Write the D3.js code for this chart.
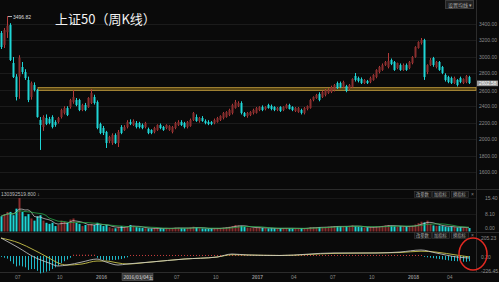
<!DOCTYPE html>
<html><head><meta charset="utf-8">
<script src="https://cdn.jsdelivr.net/npm/d3@7"></script>
<style>
html,body{margin:0;padding:0;background:#0a0a0a;}
svg{display:block;}
</style></head><body>
<svg id="c" width="499" height="282"></svg>
<script>
const title = "上证50（周K线）";
const opens = [
3291,3145,3300,3388,2926,2760,2760,2877,2816,2719,
2512,2658,2597,2233,2147,2257,2245,2269,2208,2208,
2269,2318,2378,2391,2451,2476,2476,2354,2415,2391,
2439,2512,2451,2184,2135,2087,1977,1953,2050,1953,
2147,2111,2147,2208,2172,2196,2196,2172,2147,2123,
2111,2087,2111,2172,2147,2135,2111,2087,2135,2172,
2208,2196,2147,2160,2233,2269,2220,2257,2220,2208,
2208,2196,2208,2233,2257,2269,2293,2318,2378,2403,
2439,2318,2281,2293,2318,2318,2354,2391,2366,2415,
2403,2391,2354,2391,2354,2378,2415,2391,2342,2330,
2354,2318,2366,2378,2476,2500,2549,2512,2537,2561,
2573,2597,2682,2682,2634,2646,2609,2634,2768,2743,
2731,2682,2707,2695,2719,2755,2816,2841,2901,2877,
2962,2938,2865,2901,2841,2901,2865,2926,2999,3108,
3169,3205,2816,2901,2986,2877,2938,2877,2780,2755,
2743,2682,2719,2743,2682,2695,2755];
const closes = [
3120,3327,3380,2962,2755,2512,2990,2816,2743,2476,
2682,2597,2269,2172,2269,2184,2196,2147,2172,2257,
2354,2378,2293,2476,2512,2415,2354,2415,2354,2500,
2561,2439,2135,2074,2074,1953,2026,2050,1953,2087,
2074,2147,2208,2184,2220,2147,2147,2135,2196,2074,
2074,2135,2172,2135,2111,2172,2160,2147,2196,2208,
2172,2147,2208,2233,2318,2220,2257,2220,2196,2184,
2184,2233,2257,2281,2318,2330,2354,2415,2451,2439,
2318,2281,2318,2330,2354,2378,2391,2354,2391,2378,
2366,2354,2378,2342,2391,2415,2366,2354,2378,2378,
2318,2378,2403,2476,2512,2537,2476,2573,2597,2597,
2634,2658,2622,2634,2695,2585,2658,2731,2719,2707,
2682,2719,2682,2743,2780,2841,2877,2901,2938,2950,
2914,2841,2926,2841,2901,2841,2938,2999,3120,3181,
3205,2755,2901,2962,2901,2938,2841,2804,2719,2695,
2682,2743,2658,2695,2731,2768,2682];
const highs = [
3315,3351,3496.82,3410,2999,2790,3020,2938,2850,2760,
2700,2690,2610,2269,2290,2300,2270,2290,2230,2270,
2370,2400,2400,2490,2597,2500,2490,2430,2440,2510,
2609,2540,2470,2200,2160,2100,2040,2070,2070,2111,
2170,2170,2230,2240,2240,2220,2210,2190,2210,2140,
2120,2150,2180,2190,2160,2180,2170,2160,2210,2230,
2230,2210,2220,2250,2330,2300,2270,2280,2240,2230,
2220,2250,2270,2290,2330,2340,2370,2430,2476,2460,
2460,2330,2330,2340,2370,2390,2400,2410,2400,2430,
2420,2400,2390,2400,2400,2430,2430,2400,2390,2390,
2370,2390,2410,2490,2520,2550,2570,2590,2610,2620,
2650,2670,2700,2700,2710,2660,2670,2740,2804,2760,
2750,2730,2720,2760,2790,2850,2890,2920,2950,3047,
2980,2950,2930,2920,2920,2920,2950,3010,3130,3190,
3230,3220,2910,2986,3000,2950,2950,2890,2800,2770,
2760,2760,2730,2760,2740,2780,2770];
const lows = [
3096,3108,3230,2950,2743,2470,2490,2790,2720,2450,
2480,2580,2260,1868,2100,2170,2180,2130,2150,2190,
2250,2300,2280,2370,2430,2400,2340,2340,2340,2380,
2427,2420,2120,2060,2050,1892,1950,1930,1940,1904,
2060,2100,2130,2170,2160,2130,2130,2120,2130,2060,
2060,2070,2100,2120,2100,2120,2100,2070,2120,2160,
2160,2130,2130,2150,2220,2210,2200,2210,2180,2170,
2170,2180,2200,2220,2240,2260,2280,2300,2370,2390,
2300,2270,2260,2280,2300,2310,2340,2340,2350,2370,
2350,2340,2340,2330,2340,2370,2360,2340,2330,2320,
2300,2300,2350,2370,2460,2490,2460,2500,2520,2550,
2560,2580,2610,2620,2620,2570,2590,2620,2700,2690,
2670,2670,2670,2680,2710,2740,2800,2830,2890,2860,
2900,2830,2850,2830,2830,2830,2850,2910,2990,3100,
3150,2720,2790,2890,2880,2860,2830,2790,2700,2680,
2670,2670,2640,2680,2670,2680,2670];
const volumes = [
7,8,9,9,7.5,10.5,15.4,9,7,8,
6,5,7,7.5,5,4,3.5,4,2.5,3,
5,4.5,4,5.5,6,4,3.5,2.5,3,3,
3.5,3,4,3,2.5,3,2,1.5,1.5,2,
2.5,2,2.5,3,2.5,2,1.8,1.6,1.5,1.4,
1.3,1.5,1.6,1.4,1.3,1.5,1.4,1.6,1.8,1.7,
1.5,1.4,1.6,1.8,2.2,1.8,1.5,1.4,1.3,1.2,
1.3,1.4,1.5,1.6,1.8,2,2.2,2.5,3,2.8,
2.6,2.2,1.8,1.6,1.7,1.8,1.9,1.6,1.5,1.4,
1.5,1.4,1.3,1.4,1.5,1.6,1.5,1.4,1.3,1.4,
1.5,1.4,1.6,2,1.9,1.8,2,1.9,2.1,2.2,
2.3,2.5,2.4,2.3,2.2,2.4,2.6,2.8,2.4,2.2,
2,1.8,1.9,2,2.1,2.3,2.4,2.6,2.8,3,
2.6,2.4,2.2,2.5,2.3,2.2,2.4,2.6,3.2,3.8,
4.5,4.2,5,3.5,2.8,2.6,2.7,2.5,2.2,2,
2.2,2,1.8,1.9,1.8,1.7,1.6];
const macdHist = [
-10,-20,-30,-60,-90,-120,-110,-120,-130,-160,
-150,-150,-170,-200,-190,-180,-170,-150,-130,-110,
-80,-60,-40,-20,15,15,15,15,15,15,
15,15,-20,-35,-45,-50,-50,-45,-45,-40,
-35,-25,-15,12,12,12,12,12,12,12,
12,12,12,12,12,12,12,12,12,12,
12,12,12,12,12,12,12,12,12,12,
12,12,12,12,12,12,12,12,12,12,
12,12,12,12,12,12,12,12,12,12,
12,12,12,12,12,12,12,12,12,12,
12,12,12,12,12,12,12,12,12,12,
12,12,12,12,12,12,12,12,12,12,
12,12,12,12,12,12,12,12,12,12,
12,12,12,12,12,12,12,12,12,12,
12,-10,-15,-20,-25,-30,-35,-40,-45,-50,
-55,-58,-60,-62,-65,-66,-60];
const macdIdx = [0,6,11,16,19,22,27,32,35,39,42,50,61,72,77,82,93,111,125,133,140,145,152,156];
const difVals = [207,92,-12,-80,-115,-104,-69,-35,-69,-104,-92,-69,-35,-12,23,12,6,35,35,46,69,35,-12,-23];
const deaVals = [207,150,69,-23,-80,-104,-92,-58,-58,-80,-92,-69,-35,-12,15,12,6,30,35,40,55,45,10,-10];
const priceTicks = [3400,3200,3000,2800,2600,2400,2200,2000,1800,1600];
const xTickIdx = [5,19,32,58,71,84,97,110,123,136,149];
const xTickLabels = ["07","10","2016","07","10","2017","04","07","10","2018","04"];
const volTicks = [15.40, 8.10, 0.00];
const macdTickLabels = ["205.23","0.20","-226.45"];
const lineLevel = 2602.58;
const lineStartIdx = 12;
const crossIdx = 40;
const crossLabel = "2016/03/04五";
const volInfo = "130392519.800";
const buttons = ["改参数","加指标","换指标"];

const svg = d3.select("#c");
const W = 499, H = 282, axisX = 476;
const FONT = "'Liberation Sans', Arial, sans-serif";
const CJK = "'Noto Sans CJK SC', sans-serif";
const n = closes.length;
const x = d3.scaleLinear().domain([0, 156]).range([1, 469]);
const y = d3.scaleLinear().domain([1600, 3400]).range([172, 24]);
const yv = d3.scaleLinear().domain([0, 15.4]).range([231.5, 198]);
const ym = d3.scaleLinear().domain([-230, 230]).range([276, 236]);

svg.append("rect").attr("width", W).attr("height", H).attr("fill", "#0a0a0a");

// grid
svg.append("g").selectAll("line").data(priceTicks).join("line")
  .attr("x1", 0).attr("x2", axisX).attr("y1", d => Math.round(y(d)) + 0.5).attr("y2", d => Math.round(y(d)) + 0.5)
  .attr("stroke", "#1b1b1b").attr("stroke-width", 1);
svg.append("g").selectAll("line").data([15.4, 8.1]).join("line")
  .attr("x1", 0).attr("x2", axisX).attr("y1", d => Math.round(yv(d)) + 0.5).attr("y2", d => Math.round(yv(d)) + 0.5)
  .attr("stroke", "#181818");

// separators
const sep = svg.append("g").attr("stroke", "#2c2c2c").attr("stroke-width", 1);
sep.append("line").attr("x1", 0).attr("x2", W).attr("y1", 189.5).attr("y2", 189.5);
sep.append("line").attr("x1", 0).attr("x2", W).attr("y1", 232.5).attr("y2", 232.5);
sep.append("line").attr("x1", 0).attr("x2", W).attr("y1", 272.5).attr("y2", 272.5);
sep.append("line").attr("x1", axisX + 0.5).attr("x2", axisX + 0.5).attr("y1", 0).attr("y2", 272);

// price axis labels
svg.append("g").selectAll("text").data(priceTicks).join("text")
  .attr("x", 479).attr("y", d => y(d) + (d === 2600 ? 2.8 : 2)).attr("font-family", FONT).attr("font-size", 5)
  .attr("fill", "#8a8a8a").text(d => d.toFixed(2));

// horizontal gold line
const gy = y(lineLevel);
svg.append("rect").attr("x", x(lineStartIdx) + 1).attr("y", gy - 2).attr("width", axisX - x(lineStartIdx) - 1).attr("height", 3)
  .attr("fill", "#5a4714").attr("stroke", "#b8953a").attr("stroke-width", 0.8);

// candles
const idx = d3.range(n);
const UP = "#b33a3a", DN = "#1fd6d6";
const cg = svg.append("g");
cg.selectAll("line").data(idx).join("line")
  .attr("x1", i => Math.round(x(i)) + 0.5).attr("x2", i => Math.round(x(i)) + 0.5)
  .attr("y1", i => y(highs[i])).attr("y2", i => y(lows[i]))
  .attr("stroke", i => closes[i] >= opens[i] ? UP : DN).attr("stroke-width", 1);
cg.selectAll("rect").data(idx).join("rect")
  .attr("x", i => Math.round(x(i)) - 0.5).attr("width", 2)
  .attr("y", i => y(Math.max(opens[i], closes[i])))
  .attr("height", i => Math.max(1, Math.abs(y(opens[i]) - y(closes[i]))))
  .attr("fill", i => closes[i] >= opens[i] ? "#8a2e2e" : DN);

// peak label
const pk = d3.maxIndex(highs);
svg.append("line").attr("x1", x(pk) + 1).attr("x2", x(pk) + 5).attr("y1", y(highs[pk]) + 0.5).attr("y2", y(highs[pk]) + 0.5)
  .attr("stroke", "#ddd").attr("stroke-width", 0.8);
svg.append("text").attr("x", x(pk) + 6).attr("y", y(highs[pk]) + 2.5).attr("font-family", FONT).attr("font-size", 5)
  .attr("fill", "#ddd").text(d3.format(".2f")(highs[pk]));

// gold level label
svg.append("rect").attr("x", 477).attr("y", gy - 9).attr("width", 21).attr("height", 5.6).attr("fill", "#9a9a9a");
svg.append("text").attr("x", 479).attr("y", gy - 4.6).attr("font-family", FONT).attr("font-size", 4.8)
  .attr("fill", "#fff").text(lineLevel.toFixed(2));

// title
svg.append("text").attr("x", 55).attr("y", 24).attr("font-family", CJK).attr("font-size", 13)
  .attr("fill", "#f2f2f2").text(title);

// top-right button
svg.append("rect").attr("x", 445.5).attr("y", 0.5).attr("width", 28).attr("height", 8).attr("fill", "#222").attr("stroke", "#3a3a3a");
svg.append("text").attr("x", 448).attr("y", 6.5).attr("font-family", CJK).attr("font-size", 5).attr("fill", "#aaa").text("设置均线 ▾");

// volume bars
svg.append("g").selectAll("rect").data(idx).join("rect")
  .attr("x", i => Math.round(x(i)) - 0.5).attr("width", 2)
  .attr("y", i => yv(volumes[i])).attr("height", i => yv(0) - yv(volumes[i]))
  .attr("fill", i => closes[i] >= opens[i] ? "#8a2e2e" : DN);
const ma = (k) => idx.map(i => d3.mean(volumes.slice(Math.max(0, i - k + 1), i + 1)));
const ma5 = ma(5), ma10 = ma(10);
svg.append("path").datum(idx).attr("fill", "none").attr("stroke", "#cfcfcf").attr("stroke-width", 0.7)
  .attr("d", d3.line().x(i => x(i)).y(i => yv(ma5[i])));
svg.append("path").datum(idx).attr("fill", "none").attr("stroke", "#2aa84a").attr("stroke-width", 0.8)
  .attr("d", d3.line().x(i => x(i)).y(i => yv(ma10[i])));
svg.append("g").selectAll("text").data(volTicks).join("text")
  .attr("x", 485).attr("y", d => yv(d) + (d === 0 ? -1.5 : 2)).attr("font-family", FONT).attr("font-size", 5)
  .attr("fill", "#8a8a8a").text(d => d.toFixed(2));
svg.append("text").attr("x", 1).attr("y", 196).attr("font-family", FONT).attr("font-size", 5)
  .attr("fill", "#bbb").text(volInfo + " ↓");

// buttons rows
function btnRow(yy) {
  const g = svg.append("g");
  const bx = [414, 432, 451];
  buttons.forEach((b, k) => {
    g.append("rect").attr("x", bx[k] + 0.5).attr("y", yy + 0.5).attr("width", 17).attr("height", 6)
      .attr("fill", "#151515").attr("stroke", "#3a3a3a").attr("stroke-width", 0.6);
    g.append("text").attr("x", bx[k] + 2).attr("y", yy + 5.3).attr("font-family", CJK).attr("font-size", 4.3)
      .attr("fill", "#aaa").text(b);
  });
  g.append("text").attr("x", 471).attr("y", yy + 5.3).attr("font-family", FONT).attr("font-size", 5).attr("fill", "#888").text("×");
}
btnRow(191);
btnRow(232);

// MACD
const mg = svg.append("g");
mg.selectAll("rect").data(idx).join("rect")
  .attr("x", i => Math.round(x(i))).attr("width", 1)
  .attr("y", i => Math.min(ym(0), ym(macdHist[i])))
  .attr("height", i => Math.max(0.8, Math.min(272, Math.abs(ym(macdHist[i]) - ym(0)))))
  .attr("fill", i => macdHist[i] >= 0 ? "#c03c3c" : "#1fb8c8");
const lineM = (vals) => d3.line().curve(d3.curveMonotoneX).x((d, k) => x(macdIdx[k])).y(d => ym(d))(vals);
mg.append("path").attr("d", lineM(deaVals)).attr("fill", "none").attr("stroke", "#c8c24a").attr("stroke-width", 0.9);
mg.append("path").attr("d", lineM(difVals)).attr("fill", "none").attr("stroke", "#cfcfcf").attr("stroke-width", 0.8);
const mty = [238, 257, 271];
svg.append("g").selectAll("text").data(macdTickLabels).join("text")
  .attr("x", 481).attr("y", (d, k) => mty[k] + 2).attr("font-family", FONT).attr("font-size", 5)
  .attr("fill", "#8a8a8a").text(d => d);

// red circle
svg.append("ellipse").attr("cx", 473).attr("cy", 254).attr("rx", 14).attr("ry", 16)
  .attr("fill", "none").attr("stroke", "#e32a22").attr("stroke-width", 1.5);

// x axis labels
svg.append("g").selectAll("text").data(xTickIdx).join("text")
  .attr("x", i => x(i) - 1).attr("y", 279).attr("font-family", FONT).attr("font-size", 5)
  .attr("font-weight", (i, k) => xTickLabels[k].length === 4 ? "bold" : "normal")
  .attr("fill", "#8a8a8a").text((i, k) => xTickLabels[k]);
svg.append("rect").attr("x", x(crossIdx) + 1).attr("y", 273.5).attr("width", 31).attr("height", 7).attr("fill", "#3a3a3a").attr("stroke", "#666").attr("stroke-width", 0.5);
svg.append("text").attr("x", x(crossIdx) + 2.5).attr("y", 279).attr("font-family", CJK).attr("font-size", 4.8)
  .attr("fill", "#e0e0e0").text(crossLabel);
</script>
</body></html>
